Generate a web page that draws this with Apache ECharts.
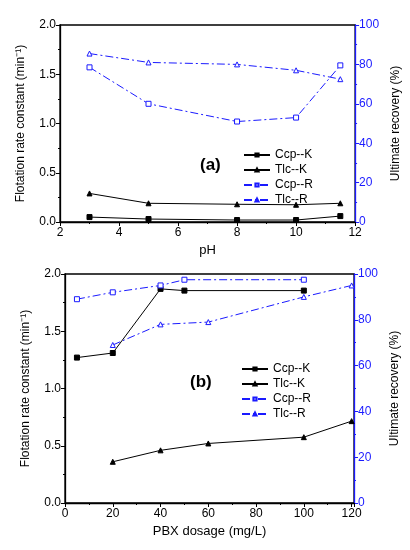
<!DOCTYPE html><html><head><meta charset="utf-8"><script src="https://cdn.jsdelivr.net/npm/echarts@6/dist/echarts.min.js"></script></head><body style="margin:0"><div id="c" style="width:410px;height:550px"></div><script>
const pH=[3,5,8,10,11.5];
const aCcpK=[0.05,0.03,0.02,0.02,0.06];
const aTlcK=[0.29,0.19,0.18,0.175,0.19];
const aCcpR=[78.5,60,51,53,79.5];
const aTlcR=[85.5,81,80,77,72.5];
const doseC=[5,20,40,50,100];
const doseT=[20,40,60,100,120];
const bCcpK=[1.27,1.31,1.87,1.855,1.855];
const bTlcK=[0.36,0.46,0.52,0.575,0.715];
const bCcpR=[89,92,95,97.5,97.5];
const bTlcR=[69,78,79,90,95];
const names=['Ccp--K','Tlc--K','Ccp--R','Tlc--R'];
const blue='#1a1aff';
const z=(x,y)=>x.map((v,i)=>[v,y[i]]);
function axX(gi,min,max,name){return {gridIndex:gi,type:'value',min,max,interval:gi?20:2,name,nameLocation:'middle',nameGap:22,nameTextStyle:{fontSize:13,color:'#000',fontFamily:'Liberation Sans'},axisLine:{lineStyle:{color:'#000',width:1.3}},axisTick:{length:4,lineStyle:{color:'#000'}},minorTick:{show:true,splitNumber:2,length:2,lineStyle:{color:'#000'}},axisLabel:{color:'#000',fontSize:12,showMaxLabel:gi?false:true,margin:5},splitLine:{show:false}};}
function axL(gi){return {gridIndex:gi,type:'value',min:0,max:2,interval:0.5,position:'left',name:'Flotation rate constant (min\u207B\u00B9)',nameLocation:'middle',nameGap:33,nameTextStyle:{fontSize:12,color:'#000'},axisLine:{show:true,lineStyle:{color:'#000',width:1.3}},axisTick:{show:true,length:4},minorTick:{show:true,splitNumber:2,length:2,lineStyle:{color:'#000'}},axisLabel:{color:'#000',fontSize:12,formatter:v=>v.toFixed(1),margin:4},splitLine:{show:false}};}
function axR(gi){return {gridIndex:gi,type:'value',min:0,max:100,interval:20,position:'right',name:'Ultimate recovery (%)',nameLocation:'middle',nameGap:31,nameTextStyle:{fontSize:12,color:'#000'},axisLine:{show:true,lineStyle:{color:blue,width:1.3}},axisTick:{show:true,length:4,lineStyle:{color:blue}},minorTick:{show:true,splitNumber:2,length:2,lineStyle:{color:blue}},axisLabel:{color:blue,fontSize:12,margin:4},splitLine:{show:false}};}
function S(name,xi,yi,data,sym,dash,color,fill){return {name,type:'line',xAxisIndex:xi,yAxisIndex:yi,data,symbol:sym,symbolSize:5,lineStyle:{color,width:1,type:dash},itemStyle:{color:fill?color:'#fff',borderColor:color,borderWidth:1},emphasis:{disabled:true}};}
const dd=[8,3,2,3];
const opt={animation:false,textStyle:{fontFamily:'Liberation Sans'},
grid:[{left:60,right:49,top:25,height:197,show:true,borderColor:'#000',borderWidth:1.3},{left:65,right:56,top:274,height:229,show:true,borderColor:'#000',borderWidth:1.3}],
xAxis:[axX(0,2,12,'pH'),axX(1,0,121,'PBX dosage (mg/L)')],
yAxis:[axL(0),axR(0),axL(1),axR(1)],
legend:[{data:names.map(n=>({name:n})),left:238,top:144,orient:'vertical',itemGap:3,itemWidth:26,itemHeight:4,textStyle:{fontSize:12,color:'#000'},selectedMode:false},
],
graphic:[{type:'text',left:200,top:157,style:{text:'(a)',font:'bold 17px Liberation Sans',fill:'#000'}},{type:'text',left:190,top:374,style:{text:'(b)',font:'bold 17px Liberation Sans',fill:'#000'}}],
series:[
S('Ccp--K',0,0,z(pH,aCcpK),'rect','solid','#000',true),
S('Tlc--K',0,0,z(pH,aTlcK),'triangle','solid','#000',true),
S('Ccp--R',0,1,z(pH,aCcpR),'rect',dd,blue,false),
S('Tlc--R',0,1,z(pH,aTlcR),'triangle',dd,blue,false),
S('Ccp--K',1,2,z(doseC,bCcpK),'rect','solid','#000',true),
S('Tlc--K',1,2,z(doseT,bTlcK),'triangle','solid','#000',true),
S('Ccp--R',1,3,z(doseC,bCcpR),'rect',dd,blue,false),
S('Tlc--R',1,3,z(doseT,bTlcR),'triangle',dd,blue,false)]};
opt.legend.push(Object.assign({},opt.legend[0],{top:358,left:236}));
const ch=echarts.init(document.getElementById('c'));ch.setOption(opt);
</script></body></html>
